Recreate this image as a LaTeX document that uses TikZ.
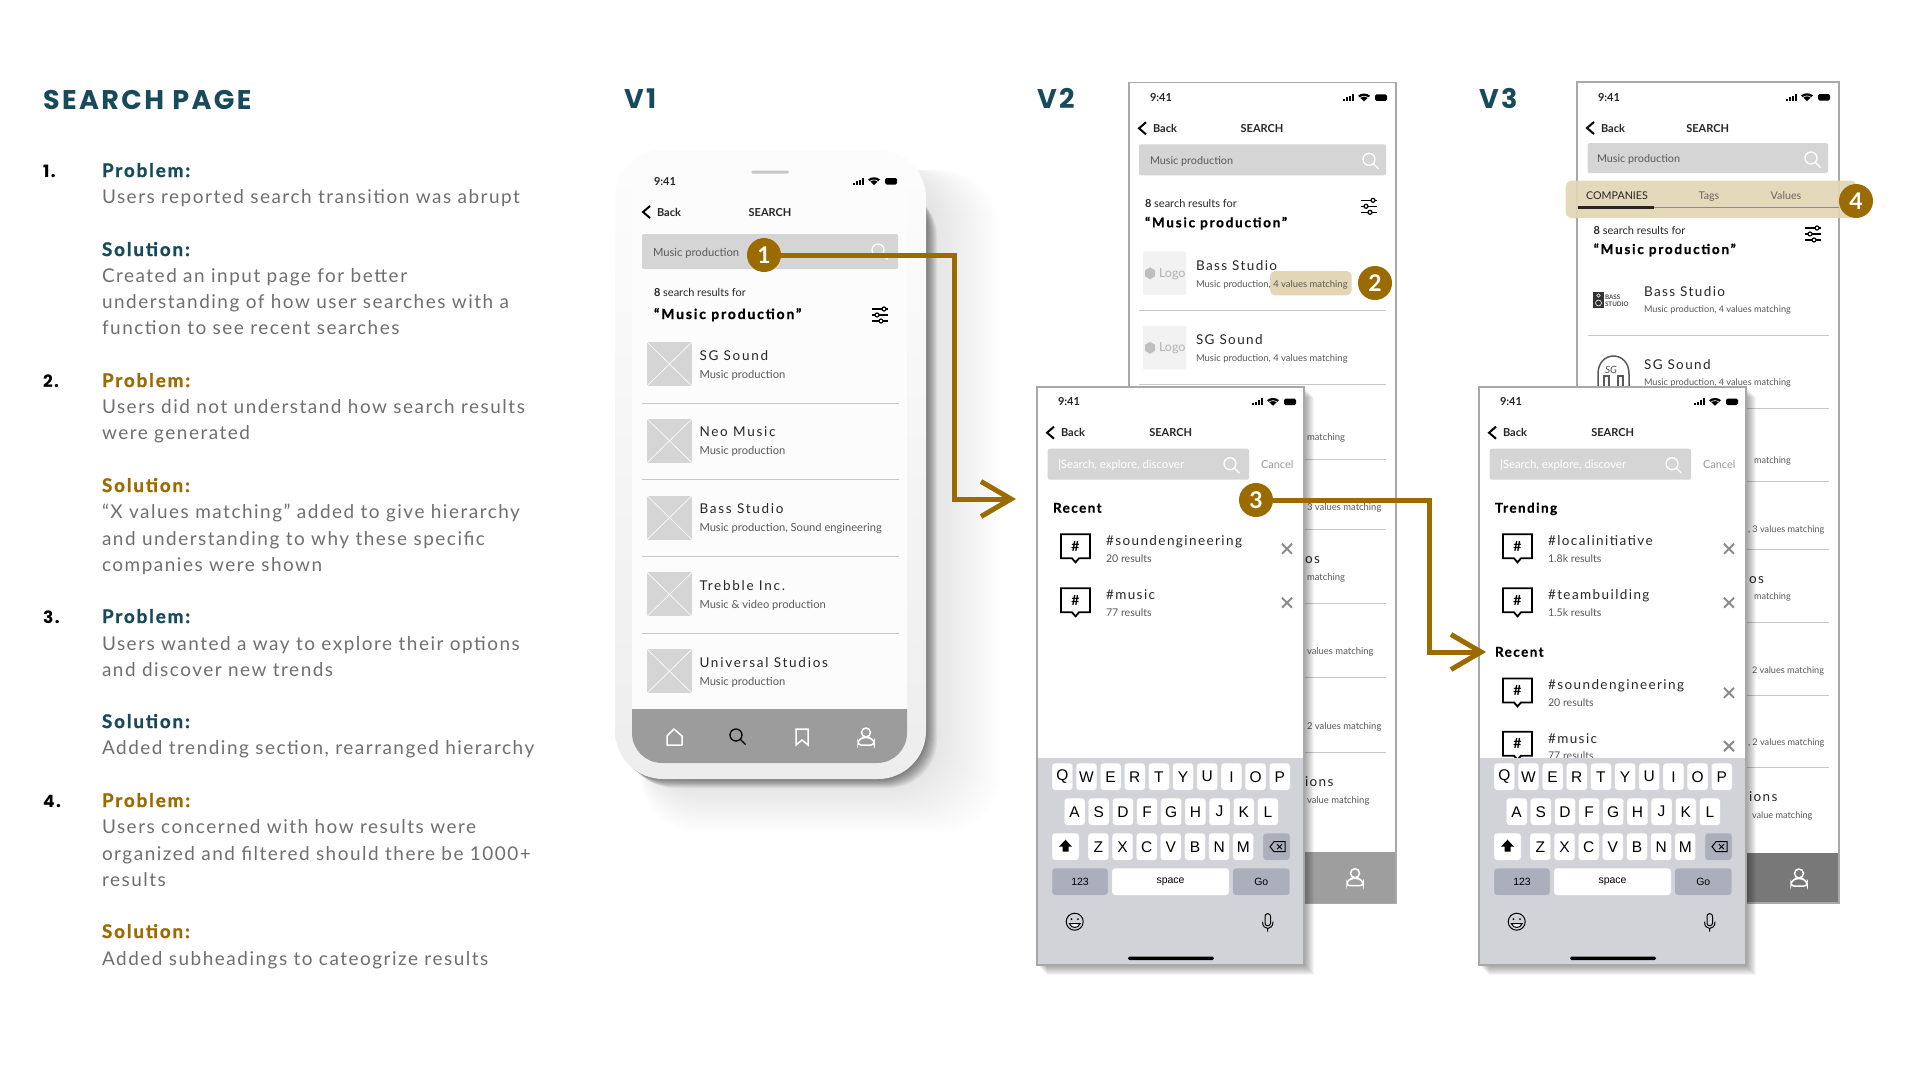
\documentclass[tikz,border=0pt]{standalone}
\usepackage{fontspec}
\setmainfont{Lato}
\newfontfamily\headfont[LetterSpace=9]{Poppins}
\newfontfamily\copyfont[LetterSpace=8]{Lato}
\newfontfamily\leadfont[LetterSpace=10,BoldFeatures={FakeBold=1.2}]{Lato}
\newfontfamily\spacedfont[LetterSpace=10.5,BoldFeatures={FakeBold=.6}]{Lato}
\newfontfamily\widefont[LetterSpace=13,BoldFeatures={FakeBold=.8}]{Lato}
\newfontfamily\keyfont{Liberation Sans}
\usetikzlibrary{arrows.meta}
\newcommand{\sz}[1]{\fontsize{#1}{#1}\selectfont}
\definecolor{deepteal}{HTML}{174A5B}
\definecolor{gold}{HTML}{9B6B00}
\definecolor{copygray}{HTML}{6F6F6F}
\definecolor{barfill}{HTML}{D5D5D5}
\definecolor{tint}{HTML}{E2D6B5}
\definecolor{framegray}{HTML}{A8A8A8}
\definecolor{kbfill}{HTML}{D1D3D9}
\definecolor{kbkey}{HTML}{ABAFBC}
\tikzset{
  txtbase/.style={anchor=base west,inner sep=0pt,outer sep=0pt},
  headtxt/.style={txtbase,font=\headfont\bfseries\sz{27},text=deepteal},
  leadtxt/.style={txtbase,font=\leadfont\bfseries\sz{18.8}},
  bodytxt/.style={txtbase,font=\copyfont\sz{18.95},text=copygray},
  minitxt/.style={txtbase,font=\sz{11},text=black!85},
  subtxt/.style={txtbase,font=\sz{10.6},text=black!65},
  backsub/.style={txtbase,font=\sz{9.45},text=black!65},
  barquery/.style={txtbase,font=\sz{10.8},text=black!65},
  nametxt/.style={txtbase,font=\spacedfont\sz{13.5},text=black!85},
  titletxt/.style={txtbase,font=\spacedfont\bfseries\sz{13.5}},
  querytxt/.style={txtbase,font=\widefont\bfseries\sz{13.5}},
  badge/.style={circle,fill=gold,text=white,minimum size=34pt,inner sep=0pt,font=\bfseries\sz{23}},
  flow/.style={draw=gold,line width=5pt,-{Straight Barb[length=30pt,width=35pt]}},
  sepline/.style={draw=black!22,line width=1pt},
  keycap/.style={fill=white,draw=black!15,line width=.3pt,rounded corners=3pt,minimum width=20.7pt,minimum height=27pt,inner sep=0pt,font=\keyfont\sz{15.5}},
  widekey/.style={keycap,fill=#1,font=\keyfont\sz{10.5}},
  xmark/.style={draw=black!45,line width=2pt},
}
% small icons, all in pixel units
\newcommand{\statusicons}[1]{
  \begin{scope}[shift={#1}]
    \foreach \b/\h in {0/2,3/3.5,6/5,9/7} \fill (\b,3.5) rectangle ++(2,-\h);
    \fill (21,4) -- (15,-1.5) .. controls (18,-4.5) and (24,-4.5) .. (27,-1.5) -- cycle;
    \draw[white,line width=.6pt] (16.8,0.6) .. controls (19,-1.6) and (23,-1.6) .. (25.2,0.6);
    \fill[rounded corners=1.5pt] (32,-3) rectangle (44,3.5);
  \end{scope}}
\newcommand{\apphead}[2]{
  \node[minitxt,font=\bfseries\sz{11}] (clock) at (21,19) {9:41};
  \statusicons{(#1,15)}
  \draw[line width=2pt] (17,40) -- (10,46) -- (17,52);
  \node[minitxt,font=\bfseries\sz{11}] (back) at (24,50) {Back};
  \node[minitxt,font=\bfseries\sz{11},anchor=base] (head) at (#2,50) {SEARCH};}
\newcommand{\lens}[2]{
  \draw[#2,line width=1.3pt] #1 circle (6pt);
  \draw[#2,line width=1.3pt] #1 ++(4.5,4.5) -- ++(5,5);}
\newcommand{\filtericon}[1]{
  \begin{scope}[shift={#1},line width=1.2pt]
    \foreach \l/\c in {-6/4,0/-3,6/1} {
      \draw (-8,\l) -- (8,\l);
      \draw[fill=white] (\c,\l) circle (2pt);}
  \end{scope}}
\newcommand{\personicon}[2]{
  \begin{scope}[shift={#1},line width=1.5pt,draw=#2]
    \draw (0,-4.5) circle (4.5pt);
    \draw[rounded corners=3pt] (-8,8) -- (-8,3.5) -- (-3,0.5) -- (3,0.5) -- (8,3.5) -- (8,8) -- cycle;
  \end{scope}}
\newcommand{\hashrow}[4]{ % id, top of the row, name, result count
  \begin{scope}[shift={(0,#2)}]
    \draw[line width=1.8pt,fill=white] (24,0) -- (53,0) -- (53,24) -- (42,24) -- (38.5,28) -- (35,24) -- (24,24) -- cycle;
    \node[font=\bfseries\sz{14},inner sep=0pt] (hash#1) at (38.5,12) {\#};
    \node[nametxt] (tag#1) at (69,11.4) {#3};
    \node[subtxt] (hits#1) at (69,27.7) {#4};
    \draw[xmark] (245,9.4) -- (255,19.4) (255,9.4) -- (245,19.4);
  \end{scope}}
\newcommand{\keyrow}[3]{ % letters, left edge, y
  \foreach \k [count=\i from 0] in {#1} {\node[keycap] (key\k) at ({#2+10.35+24.15*\i},#3) {\k};}}
\newcommand{\keyboard}{
  \fill[kbfill] (0,371.6) rectangle (267,578);
  \keyrow{Q,W,E,R,T,Y,U,I,O,P}{15}{390}
  \keyrow{A,S,D,F,G,H,J,K,L}{27.3}{425}
  \keyrow{Z,X,C,V,B,N,M}{51}{460}
  \node[keycap,minimum width=27pt] (shift) at (28.5,460) {};
  \fill (28.5,453) -- (35,460) -- (31.5,460) -- (31.5,465) -- (25.5,465) -- (25.5,460) -- (22,460) -- cycle;
  \node[widekey=kbkey,minimum width=27pt] (erase) at (239.5,460) {};
  \draw[line width=1pt] (233,460) -- (237,455) -- (248,455) -- (248,465) -- (237,465) -- cycle;
  \draw[line width=.8pt] (240,457.5) -- (245,462.5) (245,457.5) -- (240,462.5);
  \node[widekey=kbkey,minimum width=56pt] (num) at (43,495) {123};
  \node[widekey=white,minimum width=117pt] (space) at (133.5,495) {space};
  \node[widekey=kbkey,minimum width=57pt] (go) at (224.3,495) {Go};
  \draw[line width=1pt,fill=kbfill] (37.7,535) circle (8.5pt);
  \fill (34.5,532.5) circle (1pt) (41,532.5) circle (1pt);
  \draw[line width=1pt,fill=white] (32.5,537) .. controls (34,542) and (41.5,542) .. (43,537) -- cycle;
  \draw[line width=1pt,rounded corners=2.5pt] (228,527) rectangle (233.5,539);
  \draw[line width=1pt] (225.5,535) .. controls (225.5,544) and (236,544) .. (236,535) (230.7,542) -- (230.7,545);
  \fill[black,rounded corners=1.5pt] (91,570) rectangle (177,573.5);}
\newcommand{\inputpage}{
  \apphead{215}{133.7}
  \fill[barfill,rounded corners=2pt] (10.7,62) rectangle (212,93);
  \node[subtxt,text=white,font=\sz{11.4}] (hint) at (21,82) {|Search, explore, discover};
  \lens{(193,77)}{white}
  \node[subtxt,text=black!40,font=\sz{11}] (cancel) at (224,82) {Cancel};}
\newcommand{\framedpage}{
  \foreach \s in {1,...,10} \fill[black,opacity=.04] (\s,\s) rectangle (267+\s,578+\s);
  \fill[white] (0,0) rectangle (267,578);}

\begin{document}
\begin{tikzpicture}[x=1pt,y=-1pt]
  \fill[white] (0,0) rectangle (1920,1074);
  % left column
  \node[headtxt] (page) at (43,109) {SEARCH PAGE};
  \foreach \y/\n [count=\i] in {177/1.,387/2.,623/3.,807/4.}
    \node[leadtxt,font=\headfont\bfseries\sz{17}] (num\i) at (43,\y) {\n};
  \foreach \y/\l/\c [count=\i] in {177/Problem:/deepteal,256/Solution:/deepteal,387/Problem:/gold,492/Solution:/gold,
      623/Problem:/deepteal,728/Solution:/deepteal,807/Problem:/gold,938/Solution:/gold}
    \node[leadtxt,text=\c] (lead\i) at (102,\y) {\l};
  \foreach \y/\t [count=\i] in {203/Users reported search transition was abrupt,
      282/Created an input page for better,308/understanding of how user searches with a,334/function to see recent searches,
      413/Users did not understand how search results,439/were generated,
      518/“X values matching” added to give hierarchy,545/and understanding to why these specific,571/companies were shown,
      650/Users wanted a way to explore their options,676/and discover new trends,
      {754/Added trending section, rearranged hierarchy},
      833/Users concerned with how results were,860/organized and filtered should there be 1000+,886/results,
      965/Added subheadings to cateogrize results}
    \node[bodytxt] (line\i) at (102,\y) {\t};
  \node[headtxt] (vone) at (624,108) {V1};
  \node[headtxt] (vtwo) at (1037,108) {V2};
  \node[headtxt] (vthree) at (1479,108) {V3};

  % V1 phone
  \foreach \s in {2,4,...,60} \fill[black,opacity=.0028,rounded corners=60pt] (640,170) rectangle (926+1.25*\s,779+.9*\s);
  \foreach \s in {1,...,11} \fill[black,opacity=.048,rounded corners=48pt] (615+\s,178+\s) rectangle (926+\s,779+.8*\s);
  \shade[top color=black!1,bottom color=black!7,rounded corners=48pt] (615,150) rectangle (926,779);
  \fill[black!1,rounded corners=32pt] (632,166) rectangle (907,763);
  \fill[black!22,rounded corners=1.5pt] (751,170.5) rectangle (789,173.5);
  \begin{scope}[shift={(633,166)}]
    \apphead{220}{137}
  \end{scope}
  \fill[barfill,rounded corners=2pt] (642,234) rectangle (898,269);
  \node[subtxt,font=\sz{11.2}] (vonequery) at (653,256) {Music production};
  \lens{(878,250)}{white}
  \node[minitxt,font=\sz{11}] (vonecount) at (654,296) {\textbf{8} search results for};
  \node[querytxt,font=\widefont\bfseries\sz{14}] (vonetitle) at (654,319) {“Music production”};
  \filtericon{(880,315)}
  \foreach \n/\s [count=\i from 0] in {SG Sound/Music production,Neo Music/Music production,
      {Bass Studio/Music production, Sound engineering},Trebble Inc./Music \& video production,Universal Studios/Music production} {
    \begin{scope}[shift={(0,76.8*\i)}]
      \fill[barfill] (647,342) rectangle (692,386);
      \draw[white,line width=.6pt] (647,342) -- (692,386) (692,342) -- (647,386);
      \node[nametxt,font=\widefont\sz{13.5}] (vonename\i) at (699.5,360) {\n};
      \node[subtxt,font=\sz{11.15}] (vonesub\i) at (699.5,378) {\s};
    \end{scope}}
  \foreach \y in {403,479.8,556.6,633.4} \draw[sepline] (642,\y) -- (899,\y);
  \fill[black!39,rounded corners=30pt] (632,709) [sharp corners] -- (907,709) [rounded corners=30pt] -- (907,763) -- (632,763) [sharp corners] -- cycle;
  \draw[white,line width=1.5pt,line join=round] (667,745) -- (667,736) -- (674,729) -- (682,736) -- (682,745) -- cycle;
  \lens{(736,735)}{black}
  \draw[white,line width=1.5pt] (796,729) -- (808,729) -- (808,745) -- (802,740) -- (796,745) -- cycle;
  \personicon{(866,737)}{white}
  \node[badge] (one) at (764,255) {1};

  % V2 result page
  \begin{scope}[shift={(1129,82.3)},name prefix=vtwo-]
    \fill[white] (0,0) rectangle (267,821);
    \apphead{214}{133}
    \fill[barfill,rounded corners=2pt] (10,62) rectangle (257,93);
    \node[barquery] (query) at (21,82) {Music production};
    \lens{(240,77)}{white}
    \node[minitxt,font=\sz{11}] (count) at (16,125) {\textbf{8} search results for};
    \node[querytxt] (title) at (16,145) {“Music production”};
    \filtericon{(240,124)}
    \fill[tint,rounded corners=5pt] (141,188.7) rectangle (222.7,213);
    \foreach \y/\n/\t [count=\i] in {169/Bass Studio/Music production, 243.5/SG Sound/Music production} {
      \fill[black!5,rounded corners=1pt] (14,\y) rectangle (57,\y+43.5);
      \fill[black!25] (21,\y+16) -- (26,\y+19) -- (26,\y+25) -- (21,\y+28) -- (16,\y+25) -- (16,\y+19) -- cycle;
      \node[subtxt,text=black!30,font=\sz{12.5}] (logo\i) at (30,\y+26) {Logo};
      \node[nametxt] (name\i) at (67,\y+19) {\n};
      \node[backsub] (sub\i) at (67,\y+36) {Music production, 4 values matching};}
    \foreach \y/\t [count=\i] in {358/matching,428.5/3 values matching,498/matching,572.5/values matching,647/2 values matching,721/value matching}
      \node[backsub] (rest\i) at (178,\y) {\t};
    \node[nametxt] (stubos) at (176,481.5) {os};
    \node[nametxt] (stubions) at (176,704.5) {ions};
    \foreach \y in {227.7,302.4,377,447,520.7,595.4,669.7} \draw[sepline] (10,\y) -- (257,\y);
    \fill[black!38] (0,769.4) rectangle (267,821);
    \personicon{(226,795.4)}{white}
    \draw[framegray,line width=1.6pt] (0,0) rectangle (267,821);
  \end{scope}
  \node[badge] (two) at (1375,283) {2};

  % V2 input page
  \begin{scope}[shift={(1037,386.7)},name prefix=vtwoin-]
    \framedpage
    \inputpage
    \node[titletxt] (recent) at (16,126) {Recent};
    \hashrow{a}{147.6}{\#soundengineering}{20 results}
    \hashrow{b}{201.6}{\#music}{77 results}
    \keyboard
    \draw[framegray,line width=1.6pt] (0,0) rectangle (267,578);
  \end{scope}
  \node[badge] (three) at (1256,500) {3};

  % V3 result page
  \begin{scope}[shift={(1577,82)},name prefix=vthree-,backsub/.append style={font=\sz{9.15}}]
    \fill[white] (0,0) rectangle (262,821);
    \apphead{209}{130.7}
    \fill[barfill,rounded corners=2pt] (10.7,61) rectangle (251,91);
    \node[barquery] (query) at (20,80) {Music production};
    \lens{(234,76)}{white}
    \node[minitxt,font=\sz{11}] (count) at (16.7,152.7) {\textbf{8} search results for};
    \node[querytxt] (title) at (16.7,172) {“Music production”};
    \filtericon{(236,152)}
    % logos of the two first companies
    \fill[black!80] (16,209.7) rectangle (27,226);
    \draw[white,line width=.6pt] (21.5,213.5) circle (1.8pt) (21.5,221) circle (3pt);
    \node[txtbase,font=\bfseries\sz{6.3},text=black!70] (bassa) at (28,217) {BASS};
    \node[txtbase,font=\bfseries\sz{6.3},text=black!70] (bassb) at (28,224.5) {STUDIO};
    \draw[black!65,line width=1.5pt] (21,305) -- (21,292) .. controls (21,268) and (52,268) .. (52,292) -- (52,305);
    \draw[black!65,line width=1.2pt] (27,294) rectangle (32,306) (41,294) rectangle (46,306);
    \node[txtbase,font=\itshape\sz{10},text=black!70] (sgmark) at (28,291) {SG};
    \foreach \y/\n [count=\i] in {209.7/Bass Studio,282/SG Sound} {
      \node[nametxt] (name\i) at (67,\y+5) {\n};
      \node[backsub] (sub\i) at (67,\y+21) {Music production, 4 values matching};}
    \foreach \x/\y/\t [count=\i] in {177/381/matching,171/450/{, 3 values matching},177/517.7/matching,175/591/2 values matching,
        171/663.7/{, 2 values matching},175/736/value matching}
      \node[backsub] (rest\i) at (\x,\y) {\t};
    \node[nametxt] (stubos) at (172,501) {os};
    \node[nametxt] (stubions) at (172,719.7) {ions};
    \foreach \y in {253.7,326,399,467,540,613,685.7} \draw[sepline] (11,\y) -- (252,\y);
    \fill[black!53] (0,770.7) rectangle (262,821);
    \personicon{(222,796)}{white}
    \draw[framegray,line width=1.6pt] (0,0) rectangle (262,821);
  \end{scope}
  % the tabs sit on a tinted band wider than the page
  \fill[tint,opacity=.92,rounded corners=6pt] (1565.7,180.7) rectangle (1856.7,218);
  \node[minitxt,font=\sz{10.7},text=black!85,anchor=base] (tabc) at (1617,199) {COMPANIES};
  \node[minitxt,font=\sz{10.7},text=black!60,anchor=base] (tabt) at (1709,199) {Tags};
  \node[minitxt,font=\sz{10.7},text=black!60,anchor=base] (tabv) at (1786,199) {Values};
  \draw[black!45,line width=.8pt] (1578,207.3) -- (1839,207.3);
  \draw[black!85,line width=2.4pt] (1578,207.3) -- (1654,207.3);
  \node[badge] (four) at (1856,201) {4};

  % V3 input page
  \begin{scope}[shift={(1479,386.7)},name prefix=vthreein-]
    \framedpage
    \inputpage
    \node[titletxt] (trend) at (16,126) {Trending};
    \hashrow{a}{147.6}{\#localinitiative}{1.8k results}
    \hashrow{b}{201.6}{\#teambuilding}{1.5k results}
    \node[titletxt] (recent) at (16,270) {Recent};
    \hashrow{c}{291.7}{\#soundengineering}{20 results}
    \hashrow{d}{345}{\#music}{77 results}
    \keyboard
    \draw[framegray,line width=1.6pt] (0,0) rectangle (267,578);
  \end{scope}

  % connectors
  \coordinate (kneeatop) at (954,255);
  \coordinate (kneealow) at (954,499);
  \coordinate (tipa) at (1016,499);
  \coordinate (kneebtop) at (1429,500);
  \coordinate (kneeblow) at (1429,652);
  \coordinate (tipb) at (1486,652);
  \draw[flow] (one.east) -- (kneeatop) -- (kneealow) -- (tipa);
  \draw[flow] (three.east) -- (kneebtop) -- (kneeblow) -- (tipb);
\end{tikzpicture}
\end{document}
